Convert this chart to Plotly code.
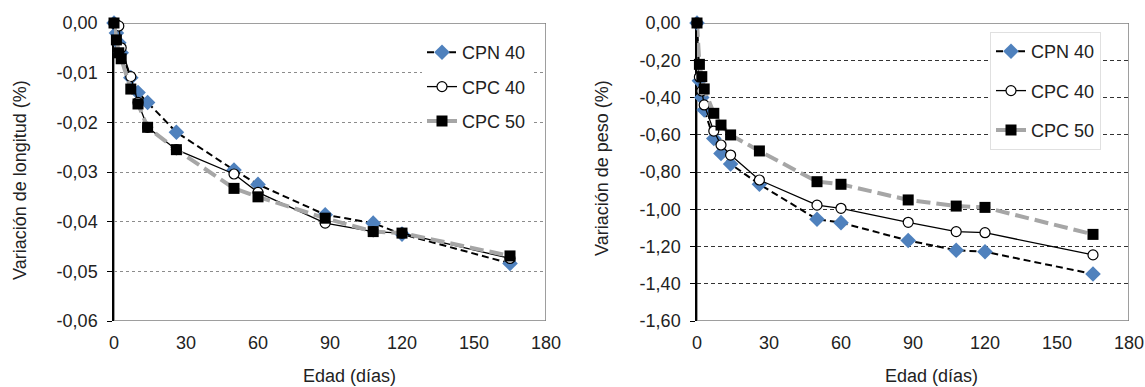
import plotly.graph_objects as go

# ---------------- data ----------------
dias = [0, 1, 2, 3, 7, 10, 14, 26, 50, 60, 88, 108, 120, 165]

long_cpn40 = [0, -0.002, -0.004, -0.006, -0.011, -0.014, -0.016, -0.022,
              -0.0296, -0.0325, -0.0386, -0.0403, -0.0425, -0.0484]
long_cpc40 = [0, -0.0003, -0.0006, -0.005, -0.0108, -0.016, -0.021, -0.0255,
              -0.0304, -0.0341, -0.0403, -0.042, -0.0423, -0.0474]
long_cpc50 = [0, -0.0034, -0.006, -0.0072, -0.0133, -0.0163, -0.021, -0.0255,
              -0.0333, -0.035, -0.0393, -0.042, -0.0423, -0.0469]

peso_cpn40 = [0, -0.31, -0.40, -0.467, -0.62, -0.70, -0.757, -0.866,
              -1.054, -1.072, -1.168, -1.22, -1.228, -1.348]
peso_cpc40 = [0, -0.29, -0.365, -0.44, -0.58, -0.655, -0.709, -0.843,
              -0.978, -0.995, -1.07, -1.12, -1.126, -1.245]
peso_cpc50 = [0, -0.222, -0.288, -0.354, -0.485, -0.548, -0.601, -0.687,
              -0.852, -0.866, -0.95, -0.983, -0.99, -1.135]

series_names = ["CPN 40", "CPC 40", "CPC 50"]

x_range = [0, 180]
x_ticks = [0, 30, 60, 90, 120, 150, 180]
long_range = [-0.06, 0]
long_tickvals = [0, -0.01, -0.02, -0.03, -0.04, -0.05, -0.06]
long_ticktext = ["0,00", "-0,01", "-0,02", "-0,03", "-0,04", "-0,05", "-0,06"]
peso_range = [-1.6, 0]
peso_tickvals = [0, -0.2, -0.4, -0.6, -0.8, -1.0, -1.2, -1.4, -1.6]
peso_ticktext = ["0,00", "-0,20", "-0,40", "-0,60", "-0,80", "-1,00", "-1,20", "-1,40", "-1,60"]

x_title = "Edad (días)"
y_title_long = "Variación de longitud (%)"
y_title_peso = "Variación de peso (%)"

# ---------------- geometry ----------------
W, H = 1145, 387
FONT = "Liberation Sans, Arial, sans-serif"
TXT = "#222222"
FS = 18

PL = (114, 546)   # left plot x pixels
PR = (697, 1129)  # right plot x pixels
PY = (23, 321)    # plot y pixels (top, bottom)

def px_x(p):
    return p / W

def px_y(p):
    return 1 - p / H

xdom_L = [px_x(PL[0]), px_x(PL[1])]
xdom_R = [px_x(PR[0]), px_x(PR[1])]
ydom = [px_y(PY[1]), px_y(PY[0])]

styles = [
    dict(mode="lines+markers",
         line=dict(color="black", width=2, dash="7px,4px"),
         marker=dict(symbol="diamond", size=12, color="#4F81BD",
                     line=dict(width=0))),
    dict(mode="lines+markers",
         line=dict(color="black", width=1.3),
         marker=dict(symbol="circle", size=10, color="white",
                     line=dict(color="black", width=1.2))),
    dict(mode="lines+markers",
         line=dict(color="#A6A6A6", width=4, dash="14px,6px"),
         marker=dict(symbol="square", size=11, color="black",
                     line=dict(width=0))),
]

fig = go.Figure()

for i, (name, ys) in enumerate(zip(series_names, [long_cpn40, long_cpc40, long_cpc50])):
    fig.add_trace(go.Scatter(x=dias, y=ys, name=name, xaxis="x", yaxis="y",
                             legend="legend", legendgroup="L" + str(i),
                             cliponaxis=False, **styles[i]))

for i, (name, ys) in enumerate(zip(series_names, [peso_cpn40, peso_cpc40, peso_cpc50])):
    fig.add_trace(go.Scatter(x=dias, y=ys, name=name, xaxis="x2", yaxis="y2",
                             legend="legend2", legendgroup="R" + str(i),
                             cliponaxis=False, **styles[i]))

tickfont = dict(family=FONT, size=FS, color=TXT)

def xaxis_main(dom, anchor):
    return dict(domain=dom, anchor=anchor, range=x_range, tickvals=x_ticks,
                showline=False, ticks="", showgrid=False, zeroline=False,
                tickfont=tickfont, automargin=False, layer="below traces",
                ticklabelstandoff=9)

def xaxis_top(over, anchor):
    return dict(overlaying=over, anchor=anchor, side="top", range=x_range,
                tickvals=x_ticks, showticklabels=False, ticks="inside",
                ticklen=5, tickcolor="#808080", tickwidth=1,
                showline=True, linecolor="black", linewidth=1.5,
                showgrid=False, zeroline=False, automargin=False,
                layer="below traces")

def yaxis(anchor, rng, tv, tt, gridcolor, griddash):
    return dict(domain=ydom, anchor=anchor, range=rng, tickvals=tv, ticktext=tt,
                showline=True, linecolor="black", linewidth=1.5,
                ticks="outside", ticklen=5, tickcolor="black",
                showgrid=True, gridcolor=gridcolor, griddash=griddash, gridwidth=1,
                zeroline=False, tickfont=tickfont, automargin=False,
                layer="below traces", ticklabelstandoff=6)

# plot-area frames (drawn from the axis ranges)
shapes = [
    dict(type="rect", xref="x", yref="y", x0=x_range[0], x1=x_range[1],
         y0=long_range[0], y1=long_range[1],
         line=dict(color="#7F7F7F", width=1.5), layer="below"),
    dict(type="rect", xref="x2", yref="y2", x0=x_range[0], x1=x_range[1],
         y0=peso_range[0], y1=peso_range[1],
         line=dict(color="#7F7F7F", width=1.5), layer="below"),
]

annotations = [
    dict(text=y_title_long, x=px_x(20), y=px_y(180), xref="paper", yref="paper",
         textangle=-90, showarrow=False, xanchor="center", yanchor="middle",
         font=dict(family=FONT, size=FS, color=TXT)),
    dict(text=y_title_peso, x=px_x(602), y=px_y(168), xref="paper", yref="paper",
         textangle=-90, showarrow=False, xanchor="center", yanchor="middle",
         font=dict(family=FONT, size=FS, color=TXT)),
    dict(text=x_title, x=px_x(349), y=px_y(376), xref="paper", yref="paper",
         showarrow=False, xanchor="center", yanchor="middle",
         font=dict(family=FONT, size=FS, color=TXT)),
    dict(text=x_title, x=px_x(931), y=px_y(376), xref="paper", yref="paper",
         showarrow=False, xanchor="center", yanchor="middle",
         font=dict(family=FONT, size=FS, color=TXT)),
]

legend_common = dict(font=dict(family=FONT, size=FS, color=TXT),
                     xanchor="left", yanchor="top", itemwidth=30)

fig.update_layout(
    width=W, height=H, autosize=False,
    margin=dict(l=0, r=0, t=0, b=0),
    paper_bgcolor="white", plot_bgcolor="white",
    separators=", ",
    font=dict(family=FONT, size=FS, color=TXT),
    xaxis=xaxis_main(xdom_L, "y"),
    xaxis2=xaxis_main(xdom_R, "y2"),
    xaxis3=xaxis_top("x", "y"),
    xaxis4=xaxis_top("x2", "y2"),
    yaxis=yaxis("x", long_range, long_tickvals, long_ticktext, "#8C8C8C", "dot"),
    yaxis2=yaxis("x2", peso_range, peso_tickvals, peso_ticktext, "#333333", "4px,3px"),
    legend=dict(x=px_x(422), y=px_y(34), tracegroupgap=8, bgcolor="white",
                borderwidth=0, **legend_common),
    legend2=dict(x=px_x(990), y=px_y(32), tracegroupgap=13, bgcolor="white",
                 bordercolor="#E0E0E0", borderwidth=1, **legend_common),
    shapes=shapes,
    annotations=annotations,
    showlegend=True,
)

fig.write_html(
    "out.html",
    config={"displayModeBar": False},
    post_script="document.body.style.margin='0';document.body.style.overflow='hidden';",
)
